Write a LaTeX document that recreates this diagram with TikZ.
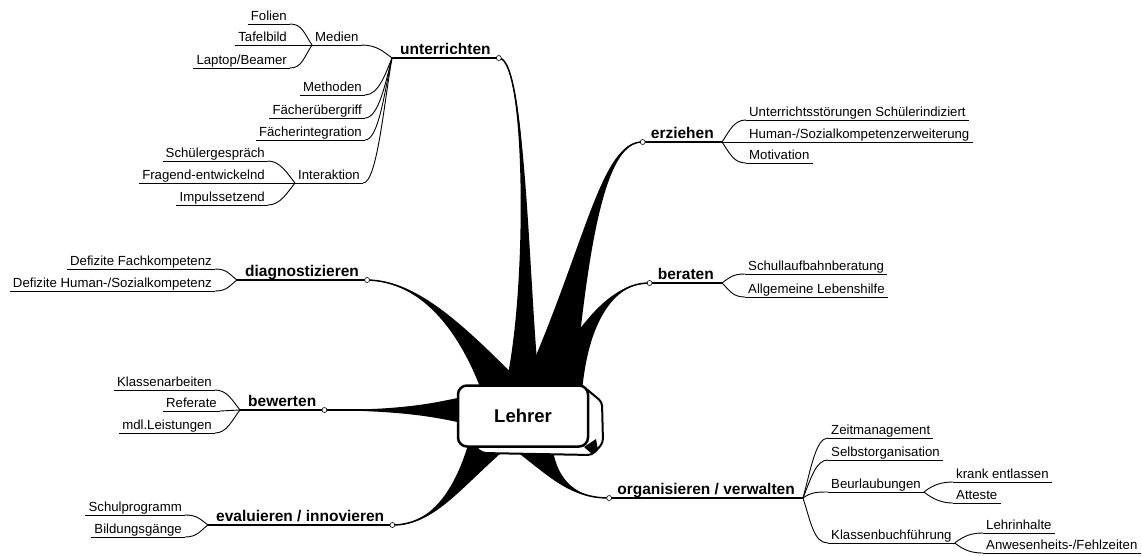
\documentclass[tikz,border=0pt]{standalone}
\usepackage{fontspec}
\setmainfont{Liberation Sans}
\usepackage{tikz}
\tikzset{
  topic/.style={
    font=\fontsize{15.5}{18}\selectfont\bfseries, inner xsep=8pt, inner ysep=0.5pt, text depth=2.5pt,
    append after command={(\tikzlastnode.south west) edge[line width=1.2pt] (\tikzlastnode.south east)}
  },
  leaf/.style={
    font=\fontsize{13.2}{15}\selectfont, inner xsep=3pt, inner ysep=1pt, text depth=2.5pt,
    append after command={(\tikzlastnode.south west) edge[line width=0.9pt] (\tikzlastnode.south east)}
  },
  twig/.style={line width=0.9pt},
  stemline/.style={line width=1.5pt},
  knot/.style={draw, fill=white, line width=0.6pt},
  hub/.style={draw, line width=2.5pt, fill=white, rounded corners=9pt, minimum width=130pt, minimum height=61pt,
    font=\fontsize{18.5}{22}\selectfont\bfseries}
}

\begin{document}
\begin{tikzpicture}[x=1pt, y=-1pt]
	\useasboundingbox (0,0) rectangle (1142,555);
	%
	\node[topic, anchor=south west] (unt) at (392,58) {unterrichten};
	\node[leaf, anchor=south west] (med) at (312,45) {Medien};
	\node[leaf, anchor=south east] (fol) at (290,24) {Folien};
	\node[leaf, anchor=south east] (taf) at (290,45) {Tafelbild};
	\node[leaf, anchor=south east] (lap) at (290,68) {Laptop/Beamer};
	\node[leaf, anchor=south east] (met) at (365,95) {Methoden};
	\node[leaf, anchor=south east] (fue) at (365,118) {Fächerübergriff};
	\node[leaf, anchor=south east] (fin) at (365,140) {Fächerintegration};
	\node[leaf, anchor=south west] (int) at (295,183) {Interaktion};
	\node[leaf, anchor=south east] (sg) at (268,161) {Schülergespräch};
	\node[leaf, anchor=south east] (fe) at (268,183) {Fragend-entwickelnd};
	\node[leaf, anchor=south east] (imp) at (268,205) {Impulssetzend};
	\draw[twig] (fol.south east) .. controls +(12,0) and +(-8,-12) .. (med.south west);
	\draw[twig] (taf.south east) -- (med.south west);
	\draw[twig] (lap.south east) .. controls +(12,0) and +(-8,12) .. (med.south west);
	\draw[twig] (med.south east) .. controls +(15,0) and +(-8,-6) .. (unt.south west);
	\draw[twig] (met.south east) .. controls +(14,0) and +(-6,14) .. (unt.south west);
	\draw[twig] (fue.south east) .. controls +(14,0) and +(-6,22) .. (unt.south west);
	\draw[twig] (fin.south east) .. controls +(14,0) and +(-7,30) .. (unt.south west);
	\draw[twig] (int.south east) .. controls +(14,0) and +(-8,45) .. (unt.south west);
	\draw[twig] (sg.south east) .. controls +(12,0) and +(-8,-10) .. (int.south west);
	\draw[twig] (fe.south east) -- (int.south west);
	\draw[twig] (imp.south east) .. controls +(12,0) and +(-8,10) .. (int.south west);
	%
	\node[topic, anchor=south east] (erz) at (722,142) {erziehen};
	\node[leaf, anchor=south west] (us) at (746,120) {Unterrichtsstörungen Schülerindiziert};
	\node[leaf, anchor=south west] (hs) at (746,142) {Human-/Sozialkompetenzerweiterung};
	\node[leaf, anchor=south west] (mot) at (746,163) {Motivation};
	\draw[twig] (erz.south east) .. controls +(8,-12) and +(-12,0) .. (us.south west);
	\draw[twig] (erz.south east) -- (hs.south west);
	\draw[twig] (erz.south east) .. controls +(8,12) and +(-12,0) .. (mot.south west);
	%
	\node[topic, anchor=south west] (dia) at (237,280) {diagnostizieren};
	\node[leaf, anchor=south east] (dfk) at (215,269) {Defizite Fachkompetenz};
	\node[leaf, anchor=south east] (dhs) at (215,291) {Defizite Human-/Sozialkompetenz};
	\draw[twig] (dfk.south east) .. controls +(12,0) and +(-8,-6) .. (dia.south west);
	\draw[twig] (dhs.south east) .. controls +(12,0) and +(-8,6) .. (dia.south west);
	%
	\node[topic, anchor=south east] (ber) at (722,283) {beraten};
	\node[leaf, anchor=south west] (slb) at (745,274) {Schullaufbahnberatung};
	\node[leaf, anchor=south west] (alh) at (745,297) {Allgemeine Lebenshilfe};
	\draw[twig] (ber.south east) .. controls +(8,-6) and +(-12,0) .. (slb.south west);
	\draw[twig] (ber.south east) .. controls +(8,8) and +(-12,0) .. (alh.south west);
	%
	\node[topic, anchor=south west] (bew) at (240,410) {bewerten};
	\node[leaf, anchor=south east] (ka) at (215,390) {Klassenarbeiten};
	\node[leaf, anchor=south east] (ref) at (220,411) {Referate};
	\node[leaf, anchor=south east] (mdl) at (215,433) {mdl.Leistungen};
	\draw[twig] (ka.south east) .. controls +(12,0) and +(-8,-10) .. (bew.south west);
	\draw[twig] (ref.south east) -- (bew.south west);
	\draw[twig] (mdl.south east) .. controls +(12,0) and +(-8,10) .. (bew.south west);
	%
	\node[topic, anchor=south west] (eva) at (208,525) {evaluieren / innovieren};
	\node[leaf, anchor=south east] (sp) at (185,515) {Schulprogramm};
	\node[leaf, anchor=south east] (bg) at (185,537) {Bildungsgänge};
	\draw[twig] (sp.south east) .. controls +(12,0) and +(-8,-6) .. (eva.south west);
	\draw[twig] (bg.south east) .. controls +(12,0) and +(-8,6) .. (eva.south west);
	%
	\node[topic, anchor=south east] (org) at (803,498) {organisieren / verwalten};
	\node[leaf, anchor=south west] (zm) at (828,438) {Zeitmanagement};
	\node[leaf, anchor=south west] (so) at (828,460) {Selbstorganisation};
	\node[leaf, anchor=south west] (bu) at (828,492) {Beurlaubungen};
	\node[leaf, anchor=south west] (ke) at (953,482) {krank entlassen};
	\node[leaf, anchor=south west] (at) at (953,503) {Atteste};
	\node[leaf, anchor=south west] (kb) at (828,543) {Klassenbuchführung};
	\node[leaf, anchor=south west] (li) at (983,533) {Lehrinhalte};
	\node[leaf, anchor=south west] (anw) at (983,553) {Anwesenheits-/Fehlzeiten};
	\draw[twig] (org.south east) .. controls +(8,-30) and +(-12,0) .. (zm.south west);
	\draw[twig] (org.south east) .. controls +(8,-20) and +(-12,0) .. (so.south west);
	\draw[twig] (org.south east) .. controls +(8,-6) and +(-10,0) .. (bu.south west);
	\draw[twig] (org.south east) .. controls +(8,25) and +(-14,0) .. (kb.south west);
	\draw[twig] (bu.south east) .. controls +(10,-8) and +(-10,0) .. (ke.south west);
	\draw[twig] (bu.south east) .. controls +(10,8) and +(-10,0) .. (at.south west);
	\draw[twig] (kb.south east) .. controls +(10,-8) and +(-10,0) .. (li.south west);
	\draw[twig] (kb.south east) .. controls +(10,8) and +(-10,0) .. (anw.south west);
	%
	\draw[stemline] (unt.south east) .. controls (527,58) and (529,300) .. (522,392);
	\fill (unt.south east) .. controls (526,58) and (528,300) .. (504,392) -- (540,392) .. controls (529,300) and (527,58) .. (unt.south east) -- cycle;
	\draw[stemline] (erz.south west) .. controls (602,141) and (587,250) .. (547,392);
	\fill (erz.south west) .. controls (600,140) and (585,250) .. (520,392) -- (574,392) .. controls (588,250) and (604,142) .. (erz.south west) -- cycle;
	\draw[stemline] (dia.south east) .. controls (415,281) and (456,319) .. (506,392);
	\fill (dia.south east) .. controls (415,282) and (455,320) .. (482,392) -- (530,392) .. controls (458,318) and (415,280) .. (dia.south east) -- cycle;
	\draw[stemline] (ber.south west) .. controls (612,283) and (586,320) .. (560,392);
	\fill (ber.south west) .. controls (610,284) and (583,318) .. (538,392) -- (582,392) .. controls (588,322) and (614,283) .. (ber.south west) -- cycle;
	\draw[stemline] (bew.south east) -- (462,410);
	\fill (bew.south east) .. controls (400,410) and (430,404) .. (462,397) -- (462,423) .. controls (430,416) and (400,411) .. (bew.south east) -- cycle;
	\draw[stemline] (eva.south east) .. controls (433,525) and (456,489) .. (489,445);
	\fill (eva.south east) .. controls (432,525) and (455,488) .. (468,445) -- (510,445) .. controls (458,490) and (434,526) .. (eva.south east) -- cycle;
	\draw[stemline] (org.south west) .. controls (570,498) and (554,477) .. (530,445);
	\fill (org.south west) .. controls (568,498) and (552,478) .. (508,445) -- (552,445) .. controls (556,476) and (572,498) .. (org.south west) -- cycle;
	%
	\draw[knot] (unt.south east) circle[radius=2.5pt];
	\draw[knot] (erz.south west) circle[radius=2.5pt];
	\draw[knot] (dia.south east) circle[radius=2.5pt];
	\draw[knot] (ber.south west) circle[radius=2.5pt];
	\draw[knot] (bew.south east) circle[radius=2.5pt];
	\draw[knot] (eva.south east) circle[radius=2.5pt];
	\draw[knot] (org.south west) circle[radius=2.5pt];
	%
	\draw[line width=2pt, fill=white, rounded corners=4pt] (468,440) -- (482,453) -- (592,455) -- (603,443) -- (602,402) -- (584,387) -- cycle;
	\node[hub] (leh) at (523,416) {Lehrer};
	\fill (584,447) -- (596,439) -- (598,450) -- (592,454) -- cycle;
\end{tikzpicture}
\end{document}
